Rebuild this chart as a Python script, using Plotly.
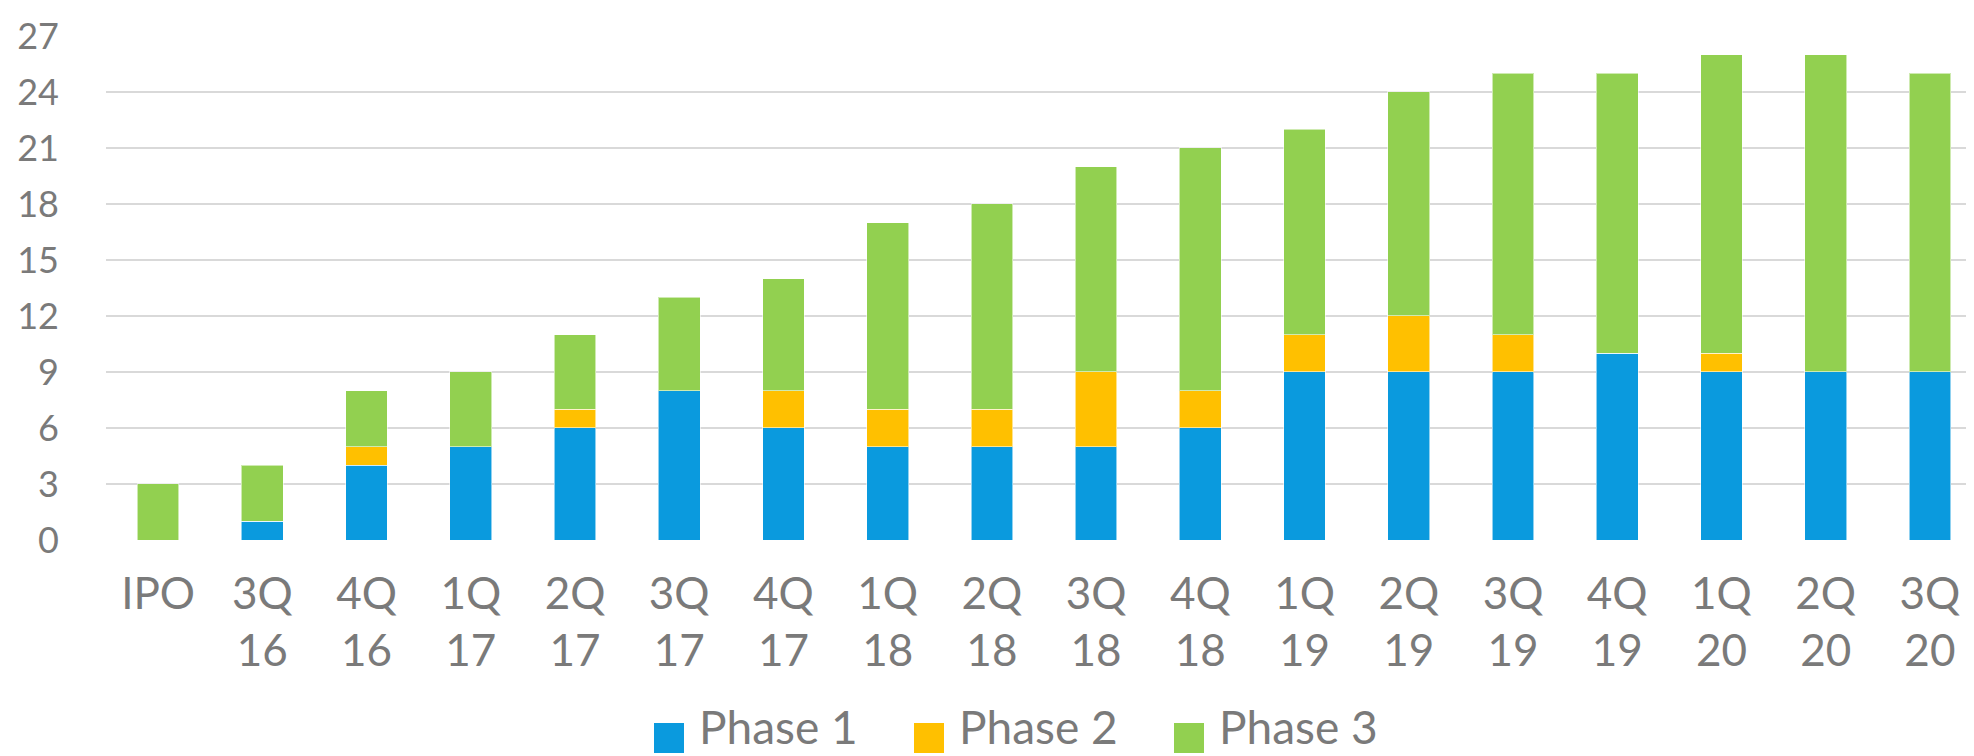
import plotly.graph_objects as go

categories = ["IPO", "3Q<br>16", "4Q<br>16", "1Q<br>17", "2Q<br>17", "3Q<br>17", "4Q<br>17",
              "1Q<br>18", "2Q<br>18", "3Q<br>18", "4Q<br>18", "1Q<br>19", "2Q<br>19",
              "3Q<br>19", "4Q<br>19", "1Q<br>20", "2Q<br>20", "3Q<br>20"]
phase1 = [0, 1, 4, 5, 6, 8, 6, 5, 5, 5, 6, 9, 9, 9, 10, 9, 9, 9]
phase2 = [0, 0, 1, 0, 1, 0, 2, 2, 2, 4, 2, 2, 3, 2, 0, 1, 0, 0]
phase3 = [3, 3, 3, 4, 4, 5, 6, 10, 11, 11, 13, 11, 12, 14, 15, 16, 17, 16]
series_names = ["Phase 1", "Phase 2", "Phase 3"]
series_colors = ["#0a9ade", "#ffc000", "#92d050"]
y_ticks = [0, 3, 6, 9, 12, 15, 18, 21, 24, 27]

W, H = 1974, 756
ML, MR, MT, MB = 98, 0, 27, 224
FONT = "Lato, 'Open Sans', sans-serif"
GREY = "#7a7a7a"

fig = go.Figure()
for name, vals, col in zip(series_names, [phase1, phase2, phase3], series_colors):
    fig.add_trace(go.Bar(
        x=categories, y=vals, name=name,
        marker=dict(color=col, line=dict(color="rgba(255,255,255,0.55)", width=1)),
        showlegend=False,
    ))

# custom legend (large square swatches as in the reference)
pw = W - ML - MR
ph = H - MT - MB
def px2x(px):
    return (px - ML) / pw
def py2y(py):
    return (H - MB - py) / ph

legend_sq_left = [646, 906, 1166]
sq = 30
shapes = []
annotations = []
for name, col, lx in zip(series_names, series_colors, legend_sq_left):
    shapes.append(dict(type="rect", xref="paper", yref="paper",
                       x0=px2x(lx), x1=px2x(lx + sq), y0=py2y(745), y1=py2y(715),
                       fillcolor=col, line=dict(width=0)))
    annotations.append(dict(text=name, xref="paper", yref="paper",
                            x=px2x(lx + sq + 14), y=py2y(719), xanchor="left", yanchor="middle",
                            showarrow=False, borderpad=0,
                            font=dict(family=FONT, size=46, color=GREY)))

fig.update_layout(
    width=W, height=H,
    margin=dict(l=ML, r=MR, t=MT, b=MB, pad=0),
    barmode="stack", bargap=0.6,
    plot_bgcolor="white", paper_bgcolor="white",
    font=dict(family=FONT, color=GREY),
    shapes=shapes, annotations=annotations,
    xaxis=dict(showgrid=False, zeroline=False, showline=False, ticks="",
               tickfont=dict(family=FONT, size=44, color=GREY), ticklabelstandoff=24),
    yaxis=dict(range=[0, 27.05], tickvals=y_ticks, showgrid=True, gridcolor="#d9d9d9", gridwidth=1.6,
               zeroline=False, showline=False, ticks="",
               tickfont=dict(family=FONT, size=36, color=GREY), ticklabelstandoff=46),
)

fig.write_html("out.html")
